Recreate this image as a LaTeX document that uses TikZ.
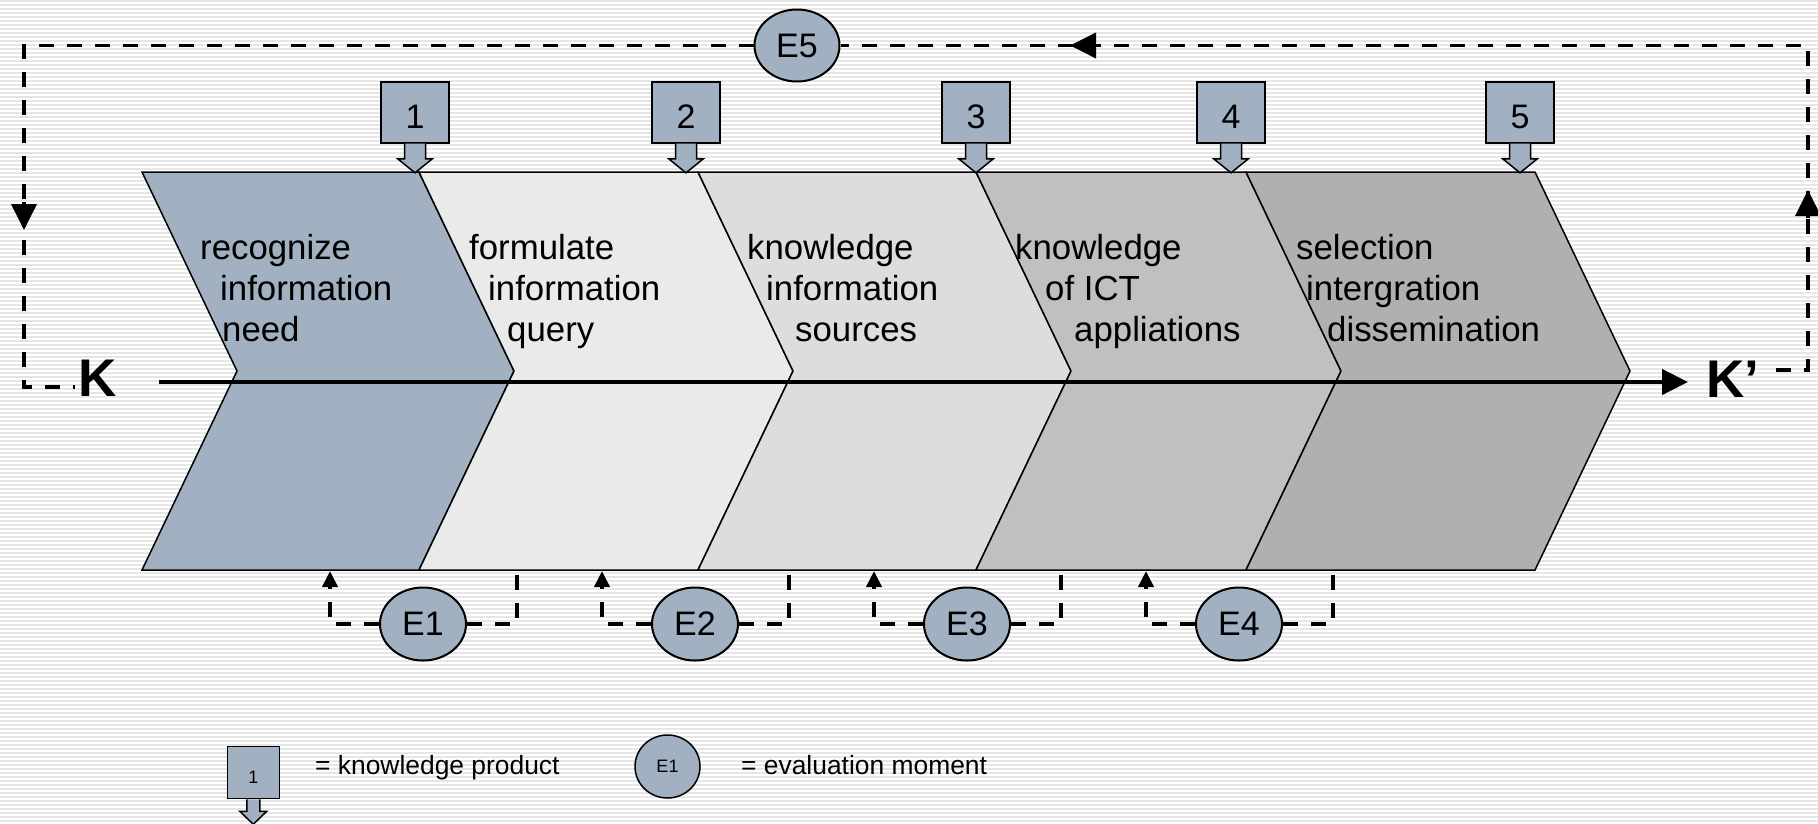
\documentclass[tikz,border=0pt]{standalone}
\usepackage{fontspec}
\setmainfont{Liberation Sans}
\usetikzlibrary{arrows.meta,shapes.geometric}
\definecolor{bluegray}{RGB}{162,177,193}
\definecolor{ctwo}{RGB}{234,234,234}
\definecolor{cthree}{RGB}{221,221,221}
\definecolor{cfour}{RGB}{192,192,192}
\definecolor{cfive}{RGB}{176,176,176}
\definecolor{stripe}{RGB}{230,230,230}
\begin{document}
\begin{tikzpicture}[x=1pt,y=-1pt,
  chev/.style={draw=black,line width=1.5pt,line join=miter},
  lbl/.style={anchor=base west,inner sep=0pt,font=\fontsize{34.8}{41}\selectfont},
  prodbox/.style={draw=black,line width=2pt,fill=bluegray,minimum width=68.6pt,minimum height=61pt,inner sep=0pt},
  prodnum/.style={inner sep=0pt,font=\fontsize{34}{41}\selectfont},
  prodarrow/.style={draw=black,line width=1.5pt,fill=bluegray},
  evalnode/.style={ellipse,draw=black,line width=2pt,fill=bluegray,minimum width=86pt,minimum height=73pt,inner sep=0pt,font=\fontsize{34}{41}\selectfont},
  dashline/.style={line width=3.8pt,dash pattern=on 15pt off 13pt},
  bigtip/.style={-{Triangle[length=26pt,width=25pt]},line width=3.8pt},
  smalltip/.style={-{Triangle[length=16pt,width=15pt]}},
  bigK/.style={anchor=base west,inner sep=0pt,font=\bfseries\fontsize{53}{60}\selectfont},
  legtext/.style={anchor=base west,inner sep=0pt,font=\fontsize{26.4}{30}\selectfont}
]
\useasboundingbox (0,0) rectangle (1818,823);
\clip (0,0) rectangle (1818,823);
% background stripes
\fill[white] (0,0) rectangle (1818,823);
\foreach \i in {0,...,206} \draw[stripe,line width=1.5pt] (0,{\i*4+1}) -- (1818,{\i*4+1});

% chevrons
\filldraw[chev,fill=bluegray] (142,172) -- (419,172) -- (514,371) -- (419,570) -- (142,570) -- (237,371) -- cycle;
\filldraw[chev,fill=ctwo] (419,172) -- (698,172) -- (793,371) -- (698,570) -- (419,570) -- (514,371) -- cycle;
\filldraw[chev,fill=cthree] (698,172) -- (976,172) -- (1071,371) -- (976,570) -- (698,570) -- (793,371) -- cycle;
\filldraw[chev,fill=cfour] (976,172) -- (1246,172) -- (1341,371) -- (1246,570) -- (976,570) -- (1071,371) -- cycle;
\filldraw[chev,fill=cfive] (1246,172) -- (1535,172) -- (1630,371) -- (1535,570) -- (1246,570) -- (1341,371) -- cycle;

% chevron texts
\node[lbl] (t1a) at (200,259) {recognize};
\node[lbl] (t1b) at (220,300) {information};
\node[lbl] (t1c) at (222,341) {need};
\node[lbl] (t2a) at (469,259) {formulate};
\node[lbl] (t2b) at (488,300) {information};
\node[lbl] (t2c) at (507,341) {query};
\node[lbl] (t3a) at (747,259) {knowledge};
\node[lbl] (t3b) at (766,300) {information};
\node[lbl] (t3c) at (795,341) {sources};
\node[lbl] (t4a) at (1015,259) {knowledge};
\node[lbl] (t4b) at (1045,300) {of ICT};
\node[lbl] (t4c) at (1074,341) {appliations};
\node[lbl] (t5a) at (1296,259) {selection};
\node[lbl] (t5b) at (1306,300) {intergration};
\node[lbl] (t5c) at (1327,341) {dissemination};

% axis
\coordinate (ax0) at (159,382);
\coordinate (ax1) at (1688,382);
\draw[line width=4.5pt,-{Triangle[length=26pt,width=25pt]}] (ax0) -- (ax1);
\node[bigK] (K) at (78,396) {K};
\node[bigK] (Kp) at (1706,397) {K’};

% knowledge product boxes
\foreach \n/\x in {1/415,2/686,3/976,4/1231,5/1520}{
  \node[prodbox] (b\n) at (\x,112) {};
  \node[prodnum] (n\n) at ([yshift=-5pt]b\n.center) {\n};
  \filldraw[prodarrow] ([xshift=-10.5pt]b\n.south) -- ++(0,15.3) -- ++(-6.8,0) -- ++(17.3,14) -- ++(17.3,-14) -- ++(-6.8,0) -- ++(0,-15.3);
}

% evaluation moments
\foreach \n/\x/\l/\r in {1/423/330/517,2/695/602/789,3/967/874/1061,4/1239/1146/1333}{
  \node[evalnode] (e\n) at (\x,624) {E\n};
  \coordinate (el\n) at (\l,571);
  \coordinate (er\n) at (\r,570);
  \draw[dashline,smalltip] (e\n.west) -| (el\n);
  \draw[dashline] (e\n.east) -| (er\n);
}

% E5 feedback loop
\node[evalnode,minimum width=85pt,minimum height=72pt] (e5) at (797,45.5) {E5};
\coordinate (kpe) at (1776,370);
\coordinate (rtop) at (1808,45.5);
\coordinate (ltop) at (24,45.5);
\coordinate (lbot) at (24,387);
\coordinate (ke) at (75,387);
\draw[dashline] (kpe) -| (rtop) -- (e5.east);
\draw[dashline] (e5.west) -- (ltop) -- (lbot) -- (ke);
\coordinate (ra0) at (1808,218);
\coordinate (ra1) at (1808,190);
\draw[bigtip] (ra0) -- (ra1);
\coordinate (ta0) at (1098,45.5);
\coordinate (ta1) at (1070,45.5);
\draw[bigtip] (ta0) -- (ta1);
\coordinate (la0) at (24,202);
\coordinate (la1) at (24,230);
\draw[bigtip] (la0) -- (la1);

% legend
\node[draw=black,line width=1.5pt,fill=bluegray,minimum width=52pt,minimum height=52pt,inner sep=0pt] (lb) at (253.3,772.5) {};
\node[inner sep=0pt,font=\fontsize{18}{20}\selectfont] (lbn) at ([yshift=-5pt]lb.center) {1};
\filldraw[prodarrow] ([xshift=-6.5pt]lb.south) -- ++(0,12) -- ++(-7,0) -- ++(13.5,13) -- ++(13.5,-13) -- ++(-7,0) -- ++(0,-12);
\node[legtext] (lt1) at (315,774) {= knowledge product};
\node[ellipse,draw=black,line width=1.5pt,fill=bluegray,minimum width=65pt,minimum height=63pt,inner sep=0pt,font=\fontsize{18}{20}\selectfont] (le) at (667.5,766.5) {E1};
\node[legtext] (lt2) at (741,774) {= evaluation moment};
\end{tikzpicture}
\end{document}
